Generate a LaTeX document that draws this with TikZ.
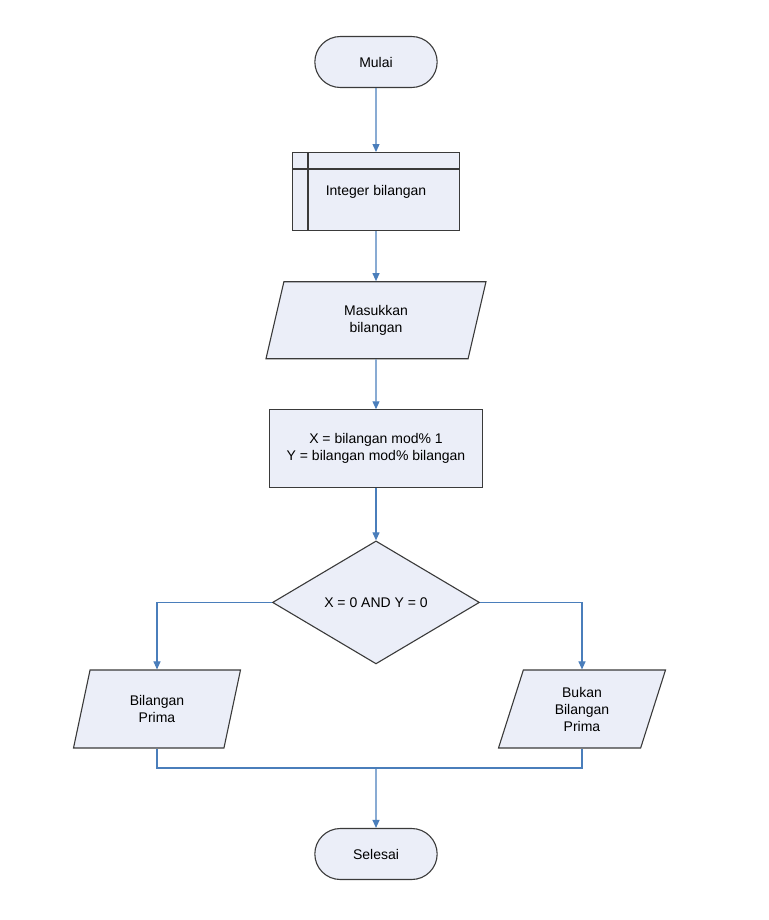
\documentclass[tikz,border=0pt]{standalone}
\usepackage{fontspec}
\setmainfont{Liberation Sans}
\usetikzlibrary{positioning, arrows.meta, shapes.geometric, shapes.misc}
\definecolor{boxfill}{HTML}{EBEEF8}
\definecolor{boxline}{HTML}{3A3A3A}
\definecolor{linkblue}{HTML}{4A7EBB}

\tikzset{
  terminal/.style={rounded rectangle, draw=boxline, fill=boxfill, line width=1.1pt,
    minimum width=129pt, minimum height=51pt},
  storage/.style={rectangle, draw=boxline, fill=boxfill, line width=1.1pt,
    minimum width=167pt, minimum height=78pt},
  process/.style={rectangle, draw=boxline, fill=boxfill, line width=1.1pt, align=center,
    minimum width=213pt, minimum height=78pt},
  io/.style={trapezium, trapezium left angle=64, trapezium right angle=116,
    trapezium stretches body, draw=boxline, fill=boxfill, line width=1.1pt, align=center},
  decision/.style={diamond, draw=boxline, fill=boxfill, line width=1.1pt, inner sep=0pt,
    minimum width=207pt, minimum height=123pt},
  link/.style={draw=linkblue, line width=1.1pt},
  flow/.style={link, -{Triangle[length=8pt, width=7pt]}}
}

\begin{document}
\begin{tikzpicture}[x=1pt, y=-1pt, font=\fontsize{14}{17}\selectfont]
  \useasboundingbox (0,0) rectangle (768,920);

  \node[terminal] (mulai) at (376,62) {Mulai};
  \node[storage, below=64pt of mulai] (integer) {Integer bilangan};
  \draw[boxline, line width=1.1pt] ([yshift=-17pt]integer.north west) -- ([yshift=-17pt]integer.north east);
  \draw[boxline, line width=1.1pt] ([xshift=16pt]integer.north west) -- ([xshift=16pt]integer.south west);
  \node[io, minimum width=220pt, minimum height=77pt, below=50pt of integer] (masukkan) {Masukkan\\bilangan};
  \node[process, below=50pt of masukkan] (proses) {X = bilangan mod\% 1\\Y = bilangan mod\% bilangan};
  \node[decision, below=52pt of proses] (cek) {X = 0 AND Y = 0};

  % hasil
  \node[io, minimum width=167pt, minimum height=78pt] (prima) at (157,709) {Bilangan\\Prima};
  \node[io, minimum width=167pt, minimum height=78pt] (bukan) at (582,709) {Bukan\\Bilangan\\Prima};
  \node[terminal] (selesai) at (376,854) {Selesai};
  \coordinate (gabung) at (376,768);

  \draw[flow] (mulai) -- (integer);
  \draw[flow] (integer) -- (masukkan);
  \draw[flow] (masukkan) -- (proses);
  \draw[flow] (proses) -- (cek);
  \draw[flow] (cek.west) -| (prima.north -| prima);
  \draw[flow] (cek.east) -| (bukan.north -| bukan);
  \draw[link] (prima.south -| prima) |- (gabung) -| (bukan.south -| bukan);
  \draw[flow] (gabung) -- (selesai);
\end{tikzpicture}
\end{document}
